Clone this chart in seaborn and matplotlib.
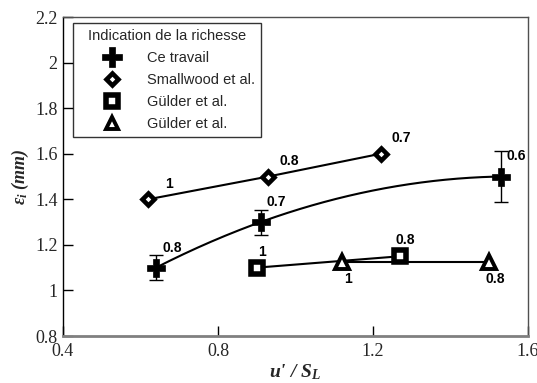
import numpy as np
import pandas as pd
import matplotlib
matplotlib.use("Agg")
import matplotlib.pyplot as plt
from matplotlib.lines import Line2D
import seaborn as sns

# --- data -----------------------------------------------------------------
ce_x = [0.64, 0.91, 1.53]
ce_y = [1.10, 1.30, 1.50]
ce_err = [0.055, 0.055, 0.11]
ce_lab = ["0.8", "0.7", "0.6"]

sw_x = [0.62, 0.93, 1.22]
sw_y = [1.40, 1.50, 1.60]
sw_lab = ["1", "0.8", "0.7"]

gs_x = [0.90, 1.27]
gs_y = [1.10, 1.15]
gs_lab = ["1", "0.8"]

gt_x = [1.12, 1.50]
gt_y = [1.125, 1.125]
gt_lab = ["1", "0.8"]

series_names = ["Ce travail", "Smallwood et al.", "Gülder et al.", "Gülder et al."]
legend_title = "Indication de la richesse"
x_ticks = [0.4, 0.8, 1.2, 1.6]
y_ticks = [0.8, 1.0, 1.2, 1.4, 1.6, 1.8, 2.0, 2.2]
y_ticklabels = ["0.8", "1", "1.2", "1.4", "1.6", "1.8", "2", "2.2"]

# --- style ----------------------------------------------------------------
sns.set_theme(style="ticks")
plt.rcParams["font.family"] = ["Liberation Sans", "DejaVu Sans"]
plt.rcParams["mathtext.fontset"] = "custom"
plt.rcParams["mathtext.rm"] = "Liberation Serif"
plt.rcParams["mathtext.it"] = "Liberation Serif:italic:bold"
plt.rcParams["mathtext.bf"] = "Liberation Serif:bold"

fig = plt.figure(figsize=(5.37, 3.83), dpi=100)
ax = fig.add_axes([0.1173, 0.1227, 0.8659, 0.8329])

LW = 1.5
mk_plus = dict(marker="P", ms=13, mfc="black", mec="black", mew=0.5)
mk_diam = dict(marker="D", ms=6.5, mfc="white", mec="black", mew=3.3)
mk_sq = dict(marker="s", ms=8.5, mfc="white", mec="black", mew=4.0)
mk_tri = dict(marker="^", ms=9.5, mfc="white", mec="black", mew=2.8)

# Ce travail: smooth curve through the points plus error bars
coef = np.polyfit(ce_x, ce_y, 2)
xs = np.linspace(ce_x[0], ce_x[-1], 200)
sns.lineplot(x=xs, y=np.polyval(coef, xs), ax=ax, color="black", lw=LW,
             estimator=None, sort=False)
ax.errorbar(ce_x, ce_y, yerr=ce_err, fmt="none", ecolor="black",
            elinewidth=1.0, capsize=5, capthick=1.0, zorder=3)
ax.plot(ce_x, ce_y, ls="none", zorder=4, **mk_plus)

# Smallwood et al.
sns.lineplot(x=sw_x, y=sw_y, ax=ax, color="black", lw=LW, estimator=None,
             sort=False)
ax.plot(sw_x, sw_y, ls="none", zorder=4, **mk_diam)

# Gülder et al. (squares)
sns.lineplot(x=gs_x, y=gs_y, ax=ax, color="black", lw=LW, estimator=None,
             sort=False)
ax.plot(gs_x, gs_y, ls="none", zorder=4, **mk_sq)

# Gülder et al. (triangles)
sns.lineplot(x=gt_x, y=gt_y, ax=ax, color="black", lw=LW, estimator=None,
             sort=False)
ax.plot(gt_x, gt_y, ls="none", zorder=4, **mk_tri)

# richness annotations
lab_kw = dict(fontsize=10, fontweight="bold", color="black",
              textcoords="offset points", ha="center", va="center")
for x, y, t in zip(ce_x[:2], ce_y[:2], ce_lab[:2]):
    ax.annotate(t, (x, y), xytext=(11.5, 14.5), **lab_kw)
ax.annotate(ce_lab[2], (ce_x[2], ce_y[2]), xytext=(11, 15), **lab_kw)
for x, y, t in zip(sw_x, sw_y, sw_lab):
    ax.annotate(t, (x, y), xytext=(15, 11), **lab_kw)
for x, y, t in zip(gs_x, gs_y, gs_lab):
    ax.annotate(t, (x, y), xytext=(4, 11.5), **lab_kw)
for x, y, t in zip(gt_x, gt_y, gt_lab):
    ax.annotate(t, (x, y), xytext=(4, -12.5), **lab_kw)

# axes
ax.set_xlim(0.4, 1.6)
ax.set_ylim(0.8, 2.2)
ax.set_xticks(x_ticks)
ax.set_xticklabels([f"{v:g}" for v in x_ticks])
ax.set_yticks(y_ticks)
ax.set_yticklabels(y_ticklabels)
ax.tick_params(direction="in", length=7, width=1.0, color="black",
               labelsize=13)
ax.tick_params(axis="x", pad=5)
ax.tick_params(axis="y", pad=4)
for lab in ax.get_xticklabels() + ax.get_yticklabels():
    lab.set_fontfamily("Liberation Serif")
ax.spines["left"].set_color("black")
ax.spines["left"].set_linewidth(1.0)
ax.spines["bottom"].set_color("#808080")
ax.spines["bottom"].set_linewidth(2.0)
for s in ("top", "right"):
    ax.spines[s].set_visible(True)
    ax.spines[s].set_color("#505050")
    ax.spines[s].set_linewidth(1.0)

ax.set_xlabel(r"$u$' / $S_L$", fontsize=14, labelpad=2,
              fontfamily="Liberation Serif", fontweight="bold",
              fontstyle="italic")
ax.set_ylabel(r"$\varepsilon_i$ (mm)", fontsize=13, labelpad=3,
              fontfamily="Liberation Serif", fontweight="bold",
              fontstyle="italic")

# legend
handles = [
    Line2D([], [], ls="none", **{**mk_plus, "ms": 14}),
    Line2D([], [], ls="none", **{**mk_diam, "ms": 6}),
    Line2D([], [], ls="none", **{**mk_sq, "ms": 8}),
    Line2D([], [], ls="none", **{**mk_tri, "ms": 8.5}),
]
leg = ax.legend(handles, series_names, title=legend_title, loc="upper left",
                bbox_to_anchor=(0.0215, 0.981), fontsize=10.5,
                title_fontsize=10.5, frameon=True, fancybox=False,
                edgecolor="black", handletextpad=0.2, handlelength=4.5,
                borderpad=0.4, labelspacing=0.55, borderaxespad=0)
leg.get_frame().set_linewidth(1.0)

fig.savefig("out.png", dpi=100)
